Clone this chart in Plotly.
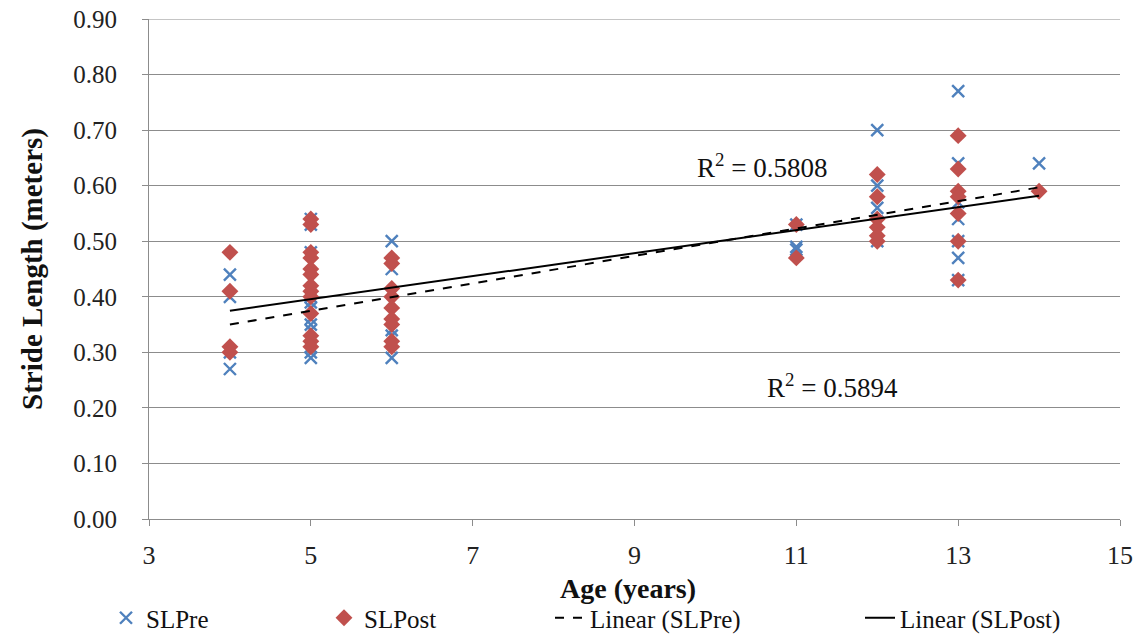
import plotly.graph_objects as go

# ---- data ----
pre_age = [4, 4, 4, 4,
           5, 5, 5, 5, 5, 5, 5, 5, 5, 5, 5, 5, 5, 5,
           6, 6, 6, 6, 6,
           11, 11, 11,
           12, 12, 12, 12, 12,
           13, 13, 13, 13, 13, 13, 13,
           14]
pre_sl = [0.44, 0.40, 0.30, 0.27,
          0.54, 0.53, 0.48, 0.46, 0.43, 0.40, 0.39, 0.38, 0.36, 0.35, 0.34, 0.31, 0.30, 0.29,
          0.50, 0.45, 0.34, 0.33, 0.29,
          0.53, 0.49, 0.485,
          0.70, 0.60, 0.56, 0.535, 0.50,
          0.77, 0.64, 0.57, 0.54, 0.50, 0.47, 0.43,
          0.64]

post_age = [4, 4, 4, 4,
            5, 5, 5, 5, 5, 5, 5, 5, 5, 5, 5, 5, 5,
            6, 6, 6, 6, 6, 6, 6, 6, 6,
            11, 11,
            12, 12, 12, 12, 12, 12,
            13, 13, 13, 13, 13, 13, 13,
            14]
post_sl = [0.48, 0.41, 0.31, 0.30,
           0.54, 0.53, 0.48, 0.47, 0.45, 0.44, 0.42, 0.41, 0.40, 0.37, 0.33, 0.32, 0.31,
           0.47, 0.46, 0.415, 0.40, 0.38, 0.36, 0.35, 0.32, 0.31,
           0.53, 0.47,
           0.62, 0.58, 0.54, 0.525, 0.51, 0.50,
           0.69, 0.63, 0.59, 0.58, 0.55, 0.50, 0.43,
           0.59]

trend_x = [4, 14]
pre_trend = [0.350, 0.597]
post_trend = [0.375, 0.582]

r2_pre_label = "R<sup>2</sup> = 0.5808"
r2_post_label = "R<sup>2</sup> = 0.5894"
x_title = "<b>Age (years)</b>"
y_title = "<b>Stride Length (meters)</b>"

y_ticks = [0.0, 0.1, 0.2, 0.3, 0.4, 0.5, 0.6, 0.7, 0.8, 0.9]
x_ticks = [3, 5, 7, 9, 11, 13, 15]

FONT = "Liberation Serif, Times New Roman, serif"
BLUE = "#4F81BD"
RED = "#C0504D"
GRID = "#8c8c8c"

# page has an 8px body margin, so the figure is sized to fit the window
W, H = 1125, 633
L, R, T, B = 141, 13, 11, 122
PH = H - T - B

fig = go.Figure()
fig.add_trace(go.Scatter(
    x=pre_age, y=pre_sl, mode="markers", name="SLPre", legend="legend",
    marker=dict(symbol="x-thin", size=12, line=dict(color=BLUE, width=2.4), color=BLUE)))
fig.add_trace(go.Scatter(
    x=post_age, y=post_sl, mode="markers", name="SLPost", legend="legend2",
    marker=dict(symbol="diamond", size=13, color=RED)))
fig.add_trace(go.Scatter(
    x=trend_x, y=pre_trend, mode="lines", name="Linear (SLPre)", legend="legend3",
    line=dict(color="black", width=2, dash="dash")))
fig.add_trace(go.Scatter(
    x=trend_x, y=post_trend, mode="lines", name="Linear (SLPost)", legend="legend4",
    line=dict(color="black", width=2)))

fig.add_annotation(x=10.57, y=0.636, text=r2_pre_label, showarrow=False,
                   font=dict(family=FONT, size=27, color="#111"))
fig.add_annotation(x=11.45, y=0.240, text=r2_post_label, showarrow=False,
                   font=dict(family=FONT, size=27, color="#111"))

# x-axis title placed as annotation (below tick labels)
fig.add_annotation(xref="paper", yref="paper", x=0.493, y=-69 / PH, yanchor="middle",
                   text=x_title, showarrow=False,
                   font=dict(family=FONT, size=28, color="#111"))

# top gridline (plotly omits the gridline at the range edge)
fig.add_shape(type="line", xref="paper", x0=0, x1=1, yref="y", y0=y_ticks[-1], y1=y_ticks[-1],
              line=dict(color=GRID, width=1), layer="below")


def cx(page_px):
    return (page_px - 8) / W


leg_common = dict(orientation="h", yref="container", yanchor="bottom", y=-0.012,
                  xref="container", xanchor="left",
                  font=dict(family=FONT, size=25, color="#111"),
                  bgcolor="rgba(0,0,0,0)", tracegroupgap=0)

fig.update_layout(
    width=W, height=H,
    margin=dict(l=L, r=R, t=T, b=B, autoexpand=False),
    paper_bgcolor="white", plot_bgcolor="white",
    font=dict(family=FONT, size=25, color="#222"),
    showlegend=True,
    legend=dict(x=cx(106), **leg_common),
    legend2=dict(x=cx(324), **leg_common),
    legend3=dict(x=cx(550), **leg_common),
    legend4=dict(x=cx(860), **leg_common),
    xaxis=dict(range=[3, 15], tickvals=x_ticks, ticktext=[str(v) for v in x_ticks],
               showgrid=False, zeroline=False, showline=True, linecolor=GRID,
               linewidth=1, ticks="outside", ticklen=6, tickcolor=GRID,
               ticklabelstandoff=7, automargin=False, ticklabeloverflow="allow",
               tickfont=dict(family=FONT, size=26, color="#222")),
    yaxis=dict(range=[0, 0.9], tickvals=y_ticks, tickformat=".2f",
               showgrid=True, gridcolor=GRID, gridwidth=1, zeroline=False,
               showline=True, linecolor=GRID, linewidth=1,
               ticks="outside", ticklen=6, tickcolor=GRID,
               ticklabelstandoff=20, automargin=False, ticklabeloverflow="allow",
               tickfont=dict(family=FONT, size=25, color="#222"),
               title=dict(text=y_title,
                          font=dict(family=FONT, size=29, color="#111"), standoff=22)),
)

fig.write_html("out.html")
